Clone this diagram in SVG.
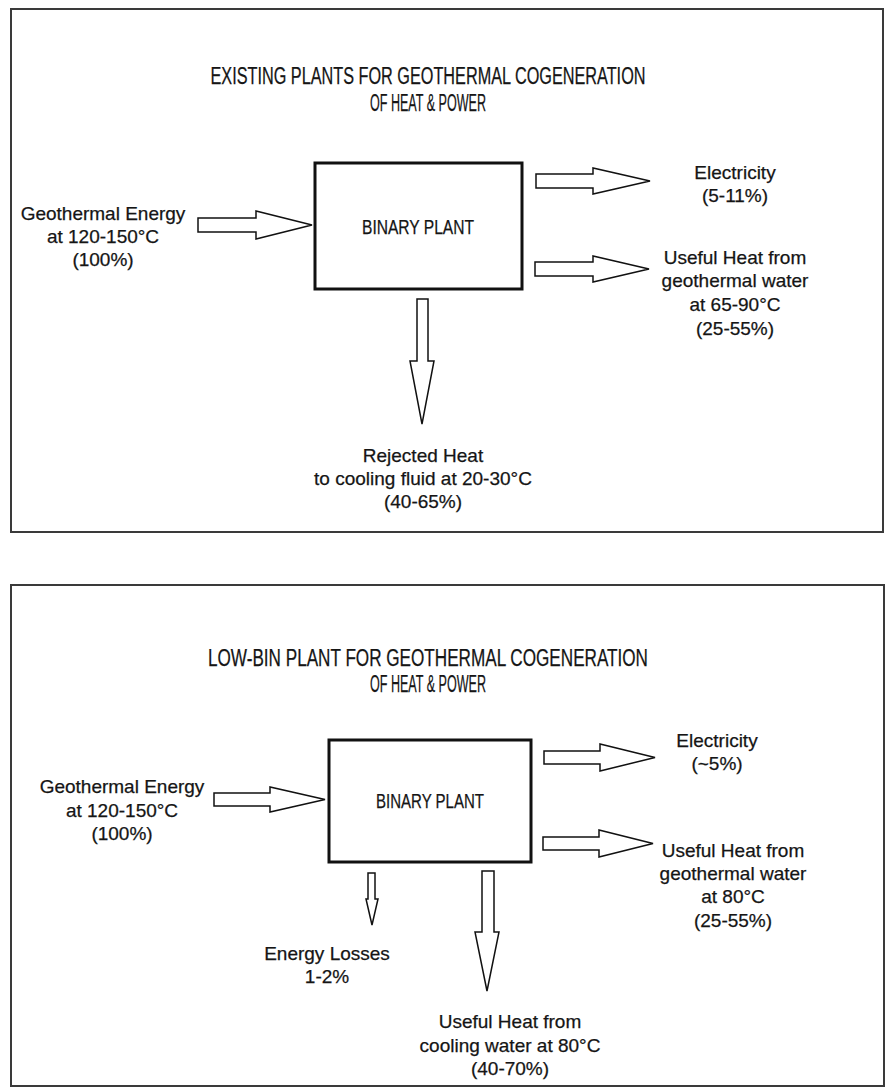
<svg xmlns="http://www.w3.org/2000/svg" width="886" height="1092" viewBox="0 0 886 1092">
<style>
.frame{fill:none;stroke:#3a3a3a;stroke-width:2}
.box{fill:#fff;stroke:#111;stroke-width:3}
.arrow{fill:#fff;stroke:#111;stroke-width:1.5;stroke-linejoin:miter}
text{font-family:"Liberation Sans",Arial,sans-serif;font-size:19px;fill:#151515;stroke:#151515;stroke-width:0.25;text-anchor:middle}
.title{font-size:23px}
.bp{font-size:20px}
</style>
<rect width="886" height="1092" fill="#fff"/>
<g id="panel-top">
<rect class="frame" x="11" y="9" width="872" height="523"/>
<text class="title" x="428" y="84" textLength="435" lengthAdjust="spacingAndGlyphs">EXISTING PLANTS FOR GEOTHERMAL COGENERATION</text>
<text class="title" x="428" y="111" textLength="116" lengthAdjust="spacingAndGlyphs">OF HEAT &amp; POWER</text>
</g>
<g id="node-top-input">
<text x="103" y="220">Geothermal Energy</text>
<text x="103" y="243">at 120-150°C</text>
<text x="103" y="266">(100%)</text>
</g>
<g id="node-top-binary">
<rect class="box" x="315" y="163" width="207" height="126"/>
<text class="bp" x="418" y="234" textLength="112" lengthAdjust="spacingAndGlyphs">BINARY PLANT</text>
</g>
<g id="node-top-electricity">
<text x="735" y="179">Electricity</text>
<text x="735" y="202">(5-11%)</text>
</g>
<g id="node-top-heat">
<text x="735" y="264">Useful Heat from</text>
<text x="735" y="287">geothermal water</text>
<text x="735" y="311">at 65-90°C</text>
<text x="735" y="335">(25-55%)</text>
</g>
<g id="node-top-rejected">
<text x="423" y="462">Rejected Heat</text>
<text x="423" y="485">to cooling fluid at 20-30°C</text>
<text x="423" y="508">(40-65%)</text>
</g>
<g id="panel-bottom">
<rect class="frame" x="11" y="585" width="873" height="501"/>
<text class="title" x="428" y="666" textLength="440" lengthAdjust="spacingAndGlyphs">LOW-BIN PLANT FOR GEOTHERMAL COGENERATION</text>
<text class="title" x="428" y="692" textLength="116" lengthAdjust="spacingAndGlyphs">OF HEAT &amp; POWER</text>
</g>
<g id="node-bottom-input">
<text x="122" y="793">Geothermal Energy</text>
<text x="122" y="817">at 120-150°C</text>
<text x="122" y="840">(100%)</text>
</g>
<g id="node-bottom-binary">
<rect class="box" x="329" y="740" width="202" height="122"/>
<text class="bp" x="430" y="808" textLength="108" lengthAdjust="spacingAndGlyphs">BINARY PLANT</text>
</g>
<g id="node-bottom-electricity">
<text x="717" y="747">Electricity</text>
<text x="717" y="770">(~5%)</text>
</g>
<g id="node-bottom-heat">
<text x="733" y="857">Useful Heat from</text>
<text x="733" y="880">geothermal water</text>
<text x="733" y="903">at 80°C</text>
<text x="733" y="927">(25-55%)</text>
</g>
<g id="node-bottom-losses">
<text x="327" y="960">Energy Losses</text>
<text x="327" y="983">1-2%</text>
</g>
<g id="node-bottom-cooling">
<text x="510" y="1028">Useful Heat from</text>
<text x="510" y="1052">cooling water at 80°C</text>
<text x="510" y="1075">(40-70%)</text>
</g>
<g id="connectors">
<polygon class="arrow" points="198,218 256,218 256,211 312,225 256,239 256,232 198,232"/>
<polygon class="arrow" points="536,174 593,174 593,168 650,181 593,194 593,188 536,188"/>
<polygon class="arrow" points="535,262 593,262 593,256 649,269 593,282 593,276 535,276"/>
<polygon class="arrow" points="417,299 428,299 428,361 434,361 422,424 410,361 417,361"/>
<polygon class="arrow" points="214,793 270,793 270,787 325,799.5 270,812 270,806 214,806"/>
<polygon class="arrow" points="544,751 600,751 600,744 655,757.5 600,771 600,764 544,764"/>
<polygon class="arrow" points="543,837 599,837 599,830 653,843.5 599,857 599,850 543,850"/>
<polygon class="arrow" points="368,873 375,873 375,899 378,899 372,925 366,899 368,899"/>
<polygon class="arrow" points="482,871 494,871 494,932 499,932 487,991 475,932 482,932"/>
</g>
</svg>
